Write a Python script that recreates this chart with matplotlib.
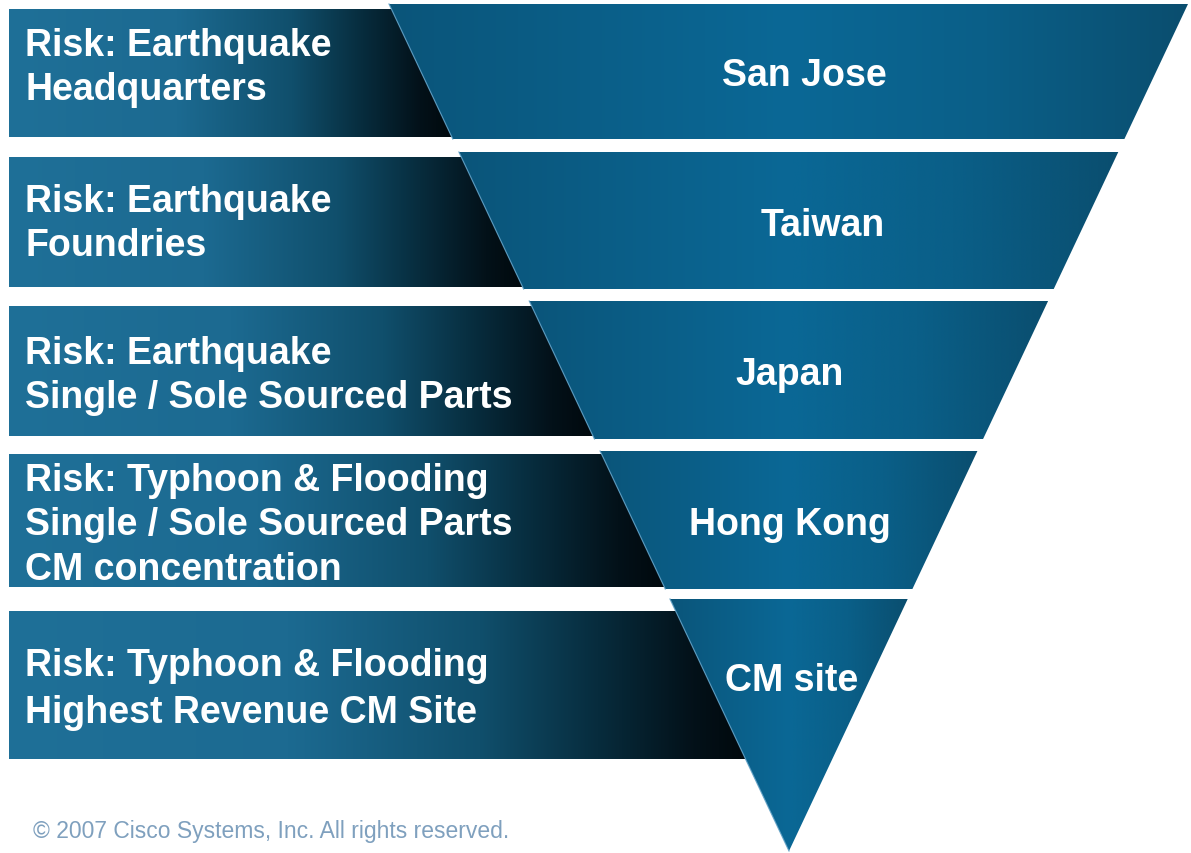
import matplotlib
matplotlib.use("Agg")
import matplotlib.pyplot as plt
import numpy as np
from matplotlib.patches import Polygon
from matplotlib.colors import LinearSegmentedColormap

# ---- data ----
places = ["San Jose", "Taiwan", "Japan", "Hong Kong", "CM site"]
risks = [
    ["Risk: Earthquake", "Headquarters"],
    ["Risk: Earthquake", "Foundries"],
    ["Risk: Earthquake", "Single / Sole Sourced Parts"],
    ["Risk: Typhoon & Flooding", "Single / Sole Sourced Parts", "CM concentration"],
    ["Risk: Typhoon & Flooding", "Highest Revenue CM Site"],
]
footer = "\u00a9 2007 Cisco Systems, Inc. All rights reserved."

# ---- layout (pixel space) ----
W, H = 1191, 854
fig = plt.figure(figsize=(W / 100, H / 100), dpi=100)
ax = fig.add_axes([0, 0, 1, 1])
ax.set_axis_off()

tri_top, tri_left, tri_right = 5, 389, 1188
apex_x, apex_y = 789, 852

def xl(y):
    return tri_left + (apex_x - tri_left) * (y - tri_top) / (apex_y - tri_top)

def xr(y):
    return tri_right + (apex_x - tri_right) * (y - tri_top) / (apex_y - tri_top)

box_tops = [10, 158, 307, 455, 612]
box_bots = [138, 288, 437, 588, 760]
box_x0 = 9
seg_tops = [5, 153, 302, 452, 600]
seg_bots = [140, 290, 440, 590, apex_y]
label_dx = [16, 34, 1, 1, 3]
text_dy = [-6, 1, 4, 4, 4]
line_gap = [44, 44, 44, 44.5, 47]

box_cmap = LinearSegmentedColormap.from_list("box", [
    (0.0, "#1f7098"), (0.38, "#1c6a91"), (0.64, "#104f6c"),
    (0.8, "#072c3d"), (0.93, "#031119"), (1.0, "#01090d")])
seg_cmap = LinearSegmentedColormap.from_list("seg", [
    (0.0, "#0b557a"), (0.5, "#0a6896"), (0.75, "#0a5f88"), (1.0, "#0a4e6f")])

grad = np.linspace(0, 1, 256).reshape(1, -1)

def grad_poly(pts, cmap, x0, x1, y0, y1):
    poly = Polygon(pts, closed=True, facecolor="none", edgecolor="none",
                   transform=ax.transData)
    ax.add_patch(poly)
    im = ax.imshow(grad, cmap=cmap, extent=[x0, x1, y1, y0], aspect="auto",
                   interpolation="bicubic", zorder=poly.get_zorder())
    im.set_clip_path(poly)
    return im

# left boxes
for i, lines in enumerate(risks):
    t, b = box_tops[i], box_bots[i]
    pts = [(box_x0, t), (xl(t), t), (xl(b), b), (box_x0, b)]
    grad_poly(pts, box_cmap, box_x0, xl(b), t, b)
    n = len(lines)
    cy = (t + b) / 2 + text_dy[i]
    for j, line in enumerate(lines):
        y = cy + (j - (n - 1) / 2) * line_gap[i]
        ax.text(25, y, line, color="white", fontsize=27, fontweight="bold",
                family="Liberation Sans", ha="left", va="center", zorder=5)

# funnel segments
for i, name in enumerate(places):
    t, b = seg_tops[i], seg_bots[i]
    if b >= apex_y:
        pts = [(xl(t), t), (xr(t), t), (apex_x, apex_y)]
    else:
        pts = [(xl(t), t), (xr(t), t), (xr(b), b), (xl(b), b)]
    grad_poly(pts, seg_cmap, xl(t), xr(t), t, b)
    ax.plot([xl(t), xl(b) if b < apex_y else apex_x], [t, b],
            color="#5d9fc6", lw=0.9, zorder=3, alpha=0.8)
    cy = (t + (b if b < apex_y else 754)) / 2 + 4
    ax.text((xl(t) + xr(t)) / 2 + label_dx[i], cy, name, color="white",
            fontsize=27, fontweight="bold", family="Liberation Sans",
            ha="center", va="center", zorder=5)

ax.text(33, 832, footer, color="#7fa0be", fontsize=16.5,
        family="Liberation Sans", ha="left", va="center")

ax.set_xlim(0, W)
ax.set_ylim(H, 0)
fig.savefig("out.png", dpi=100, facecolor="white")
